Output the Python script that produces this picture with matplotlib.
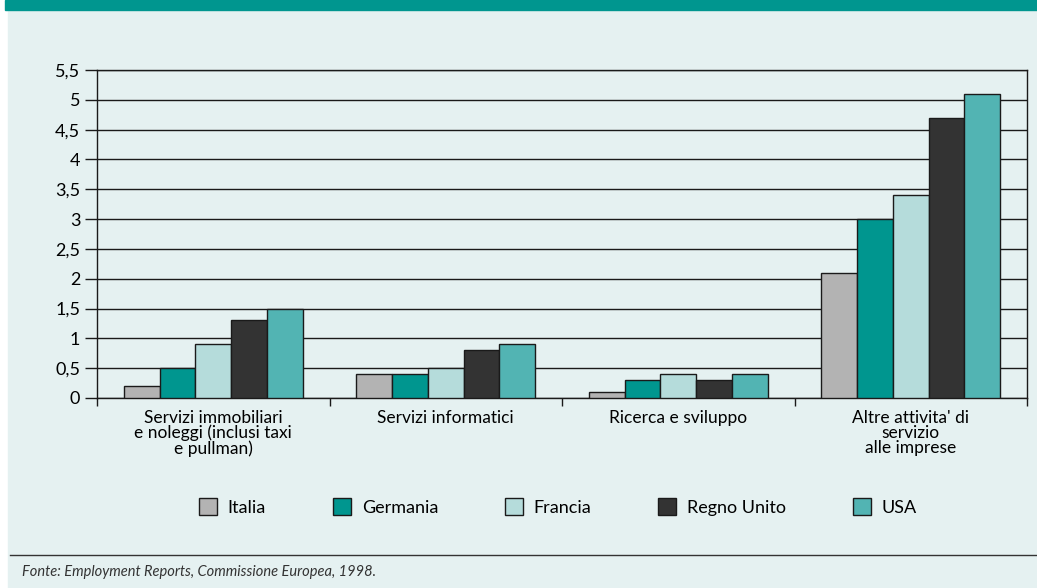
import matplotlib.pyplot as plt
import numpy as np
from matplotlib.patches import Rectangle, Patch

# dati
settori = ["Servizi immobiliari\ne noleggi (inclusi taxi\ne pullman)",
           "Servizi informatici",
           "Ricerca e sviluppo",
           "Altre attivita' di\nservizio\nalle imprese"]
paesi = ["Italia", "Germania", "Francia", "Regno Unito", "USA"]
italia = [0.2, 0.4, 0.1, 2.1]
germania = [0.5, 0.4, 0.3, 3.0]
francia = [0.9, 0.5, 0.4, 3.4]
regno_unito = [1.3, 0.8, 0.3, 4.7]
usa = [1.5, 0.9, 0.4, 5.1]
valori_y = [0, 0.5, 1, 1.5, 2, 2.5, 3, 3.5, 4, 4.5, 5, 5.5]
etichette_y = ["0", "0,5", "1", "1,5", "2", "2,5", "3", "3,5", "4", "4,5", "5", "5,5"]

colori = ["#b3b3b3", "#00968f", "#b5dcdb", "#333333", "#52b4b3"]
SFONDO = "#e5f1f1"
plt.rcParams["font.family"] = ["Lato", "DejaVu Sans"]

fig = plt.figure(figsize=(10.37, 5.88), dpi=100)
fig.patches.append(Rectangle((8 / 1037, 0), 1, 1, transform=fig.transFigure,
                             color=SFONDO, zorder=-10))
fig.patches.append(Rectangle((5 / 1037, 1 - 10 / 588), 1, 10 / 588,
                             transform=fig.transFigure, color="#00968f", zorder=-9))

ax = fig.add_axes([97 / 1037, 1 - 398 / 588, 930 / 1037, 328 / 588])
ax.set_facecolor(SFONDO)

serie = [italia, germania, francia, regno_unito, usa]
x = np.arange(len(settori))
w = 0.77 / 5
for i, (vals, c) in enumerate(zip(serie, colori)):
    ax.bar(x - 0.385 + w * (i + 0.5), vals, w, color=c, edgecolor="#1a1a1a",
           linewidth=1.0, zorder=3, label=paesi[i])

ax.set_xlim(-0.5, 3.5)
ax.set_ylim(0, 5.5)
ax.set_yticks(valori_y)
ax.set_yticklabels(etichette_y, fontsize=13)
ax.yaxis.grid(True, color="#1a1a1a", linewidth=1.0, zorder=1)
ax.tick_params(axis="y", length=9, width=1, color="#1a1a1a", pad=3)

ax.set_xticks(np.arange(-0.5, 4, 1))
ax.set_xticklabels([])
ax.tick_params(axis="x", length=6, width=1, color="#1a1a1a")
for xi, s in zip(x, settori):
    ax.text(xi, -0.2, s, ha="center", va="top", fontsize=12.5,
            linespacing=0.92, transform=ax.transData)

for sp in ax.spines.values():
    sp.set_color("#1a1a1a")
    sp.set_linewidth(1.0)

handles = [Patch(facecolor=c, edgecolor="#1a1a1a", label=p) for c, p in zip(colori, paesi)]
fig.legend(handles=handles, loc="center", bbox_to_anchor=(558 / 1037, 1 - 507 / 588),
           ncol=5, frameon=False, fontsize=13, handlelength=1.0, handleheight=1.0,
           handletextpad=0.6, columnspacing=3.7)

fig.add_artist(plt.Line2D([10 / 1037, 1], [1 - 555 / 588] * 2, color="#333333",
                          linewidth=1.0, transform=fig.transFigure))
fig.text(22 / 1037, 1 - 572 / 588, "Fonte: Employment Reports, Commissione Europea, 1998.",
         fontsize=10.5, style="italic", color="#333333", va="center")

fig.savefig("out.png", dpi=100, facecolor="white")
